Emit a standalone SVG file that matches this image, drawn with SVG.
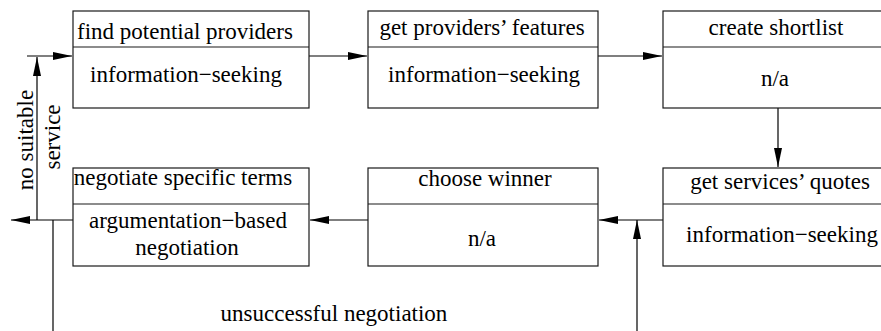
<svg xmlns="http://www.w3.org/2000/svg" width="881" height="331" viewBox="0 0 881 331">
<style>
.box{fill:#fff;stroke:#1a1a1a;stroke-width:1.2}
.div{stroke:#1a1a1a;stroke-width:1.2}
.t{font-family:'Liberation Serif','DejaVu Serif',serif;font-size:23px;fill:#000;text-anchor:middle}
.c{fill:none;stroke:#000;stroke-width:1.2}
</style>
<defs>
<marker id="ah" markerUnits="userSpaceOnUse" markerWidth="20" markerHeight="10" refX="19" refY="4" orient="auto">
<path d="M0,0 L19,4 L0,8 z" fill="#000"/>
</marker>
</defs>
<rect width="881" height="331" fill="#fff"/>
<g id="connectors">
<line class="c" x1="309" y1="56" x2="367" y2="56" marker-end="url(#ah)"/>
<line class="c" x1="598" y1="56" x2="662" y2="56" marker-end="url(#ah)"/>
<line class="c" x1="778" y1="108" x2="778" y2="167" marker-end="url(#ah)"/>
<line class="c" x1="663" y1="220" x2="599" y2="220" marker-end="url(#ah)"/>
<line class="c" x1="637" y1="331" x2="637" y2="220" marker-end="url(#ah)"/>
<line class="c" x1="368" y1="220" x2="310" y2="220" marker-end="url(#ah)"/>
<line class="c" x1="73" y1="220" x2="11" y2="220" marker-end="url(#ah)"/>
<line class="c" x1="37" y1="220" x2="37" y2="57" marker-end="url(#ah)"/>
<line class="c" x1="27" y1="56" x2="72" y2="56" marker-end="url(#ah)"/>
<line class="c" x1="53" y1="220" x2="53" y2="331"/>
<text class="t" font-family="Liberation Serif, serif" transform="translate(33,140) rotate(-90)">no suitable</text>
<text class="t" font-family="Liberation Serif, serif" transform="translate(60,137) rotate(-90)">service</text>
<text class="t" font-family="Liberation Serif, serif" x="334" y="321">unsuccessful negotiation</text>
</g>
<g id="find-providers">
<rect class="box" x="73" y="11" width="236" height="97"/>
<line class="div" x1="73" y1="47" x2="309" y2="47"/>
<text class="t" x="185" y="39">find potential providers</text>
<text class="t" x="186" y="82">information−seeking</text>
</g>
<g id="get-features">
<rect class="box" x="368" y="11" width="230" height="97"/>
<line class="div" x1="368" y1="47" x2="598" y2="47"/>
<text class="t" x="482" y="35">get providers’ features</text>
<text class="t" x="484" y="82">information−seeking</text>
</g>
<g id="create-shortlist">
<rect class="box" x="663" y="11" width="230" height="97"/>
<line class="div" x1="663" y1="47" x2="893" y2="47"/>
<text class="t" x="776" y="35">create shortlist</text>
<text class="t" x="775" y="86">n/a</text>
</g>
<g id="negotiate">
<rect class="box" x="73" y="168" width="236" height="98"/>
<line class="div" x1="73" y1="204" x2="309" y2="204"/>
<text class="t" x="183" y="185">negotiate specific terms</text>
<text class="t" x="188" y="228">argumentation−based</text>
<text class="t" x="187" y="255">negotiation</text>
</g>
<g id="choose-winner">
<rect class="box" x="368" y="168" width="230" height="98"/>
<line class="div" x1="368" y1="204" x2="598" y2="204"/>
<text class="t" x="485" y="186">choose winner</text>
<text class="t" x="482" y="246">n/a</text>
</g>
<g id="get-quotes">
<rect class="box" x="663" y="168" width="230" height="98"/>
<line class="div" x1="663" y1="204" x2="893" y2="204"/>
<text class="t" x="780" y="189">get services’ quotes</text>
<text class="t" x="782" y="242">information−seeking</text>
</g>
</svg>
